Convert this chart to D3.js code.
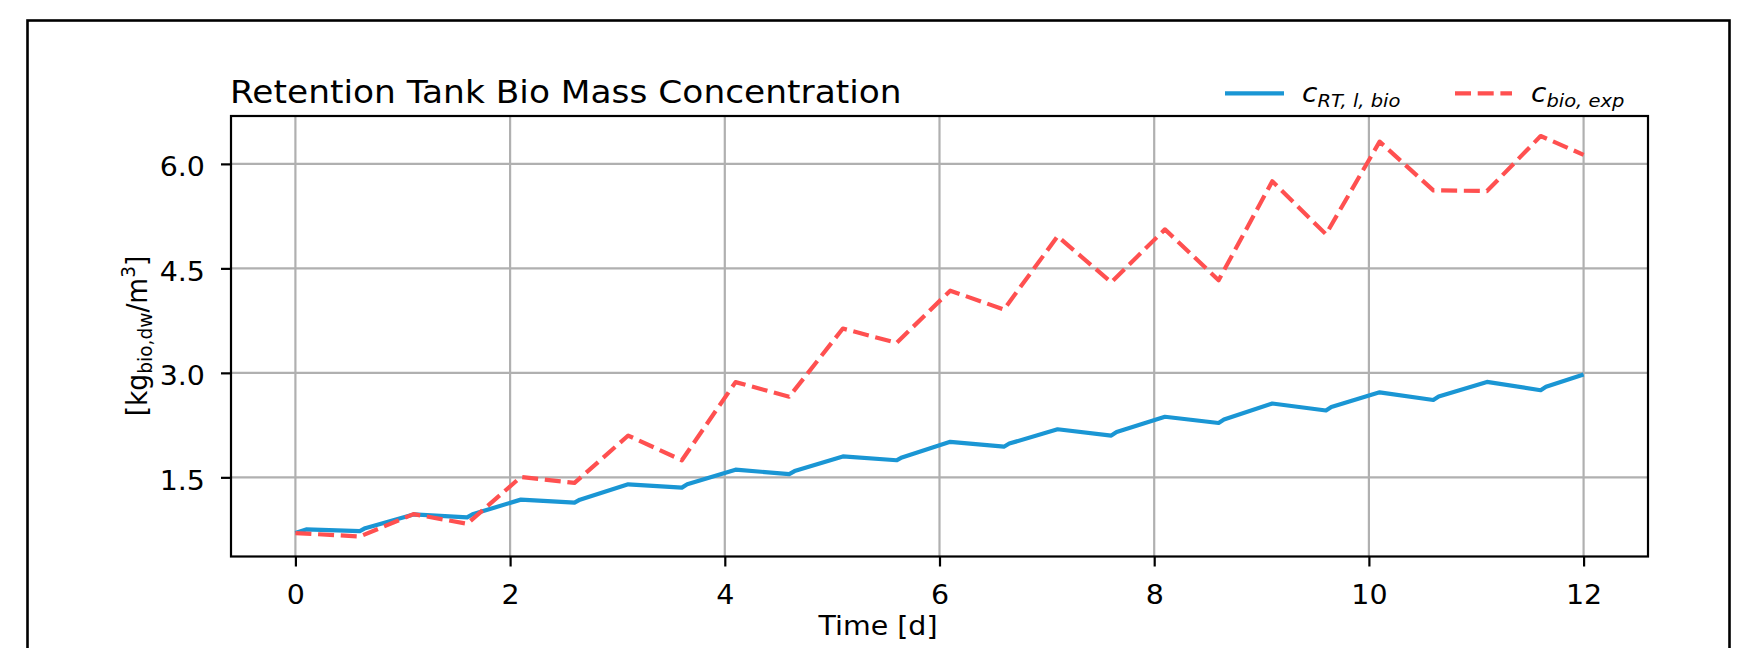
<!DOCTYPE html>
<html>
<head>
<meta charset="utf-8">
<script src="https://cdn.jsdelivr.net/npm/d3@7"></script>
<style>
  body { margin: 0; background: #fff; }
  text { font-family: "DejaVu Sans", sans-serif; fill: #000; }
</style>
</head>
<body>
<script>
// simulated retention tank concentration (blue)
const simTime = [0, 0.1, 0.6, 0.65, 1.1, 1.6, 1.65, 2.1, 2.6, 2.65, 3.1, 3.6, 3.65, 4.1, 4.6, 4.65,
  5.1, 5.6, 5.65, 6.1, 6.6, 6.65, 7.1, 7.6, 7.65, 8.1, 8.6, 8.65, 9.1, 9.6, 9.65, 10.1, 10.6, 10.65,
  11.1, 11.6, 11.65, 12];
const simConc = [0.70, 0.752, 0.728, 0.77, 0.968, 0.925, 0.97, 1.18, 1.136, 1.18, 1.40, 1.352, 1.40,
  1.61, 1.547, 1.59, 1.80, 1.745, 1.785, 2.01, 1.94, 1.985, 2.19, 2.10, 2.15, 2.37, 2.28, 2.33, 2.56,
  2.46, 2.51, 2.72, 2.61, 2.66, 2.87, 2.75, 2.80, 2.975];
// experimental values (red dashed)
const expTime = [0, 0.6, 1.1, 1.6, 2.1, 2.6, 3.1, 3.6, 4.1, 4.6, 5.1, 5.6, 6.1, 6.6, 7.1, 7.6, 8.1,
  8.6, 9.1, 9.6, 10.1, 10.6, 11.1, 11.6, 12];
const expConc = [0.70, 0.651, 0.972, 0.834, 1.504, 1.42, 2.10, 1.745, 2.867, 2.657, 3.636, 3.43,
  4.18, 3.91, 4.96, 4.30, 5.06, 4.33, 5.75, 4.99, 6.32, 5.62, 5.61, 6.40, 6.13];
const xTicks = [0, 2, 4, 6, 8, 10, 12];
const yTicks = [1.5, 3.0, 4.5, 6.0];

const blue = "#1a96d4", red = "#ff5050";
const W = 1752, H = 648;
const plot = { left: 231, right: 1648, top: 116, bottom: 556.5 };
const squash = "scale(1,0.93)"; // the picture is a bit flattened vertically

const svg = d3.select("body").append("svg").attr("width", W).attr("height", H);

const x = d3.scaleLinear().domain([-0.6, 12.6]).range([plot.left, plot.right]);
const allY = simConc.concat(expConc);
const yMin = d3.min(allY), yMax = d3.max(allY), pad = (yMax - yMin) * 0.05;
const y = d3.scaleLinear().domain([yMin - pad, yMax + pad]).range([plot.bottom, plot.top]);

// outer frame
svg.append("rect")
  .attr("x", 27.5).attr("y", 20.5)
  .attr("width", 1702).attr("height", 700)
  .attr("fill", "none").attr("stroke", "#000").attr("stroke-width", 2.6);

// grid
const grid = svg.append("g").attr("stroke", "#b0b0b0").attr("stroke-width", 2.2);
grid.selectAll(".gx").data(xTicks).join("line").attr("class", "gx")
  .attr("x1", d => x(d)).attr("x2", d => x(d))
  .attr("y1", plot.top).attr("y2", plot.bottom);
grid.selectAll(".gy").data(yTicks).join("line").attr("class", "gy")
  .attr("x1", plot.left).attr("x2", plot.right)
  .attr("y1", d => y(d)).attr("y2", d => y(d));

// axes
const xAxis = d3.axisBottom(x).tickValues(xTicks).tickSize(10).tickSizeOuter(0).tickFormat(d3.format("d"));
const yAxis = d3.axisLeft(y).tickValues(yTicks).tickSize(10).tickSizeOuter(0).tickFormat(d3.format(".1f"));

const gx = svg.append("g").attr("transform", "translate(0," + plot.bottom + ")").call(xAxis);
const gy = svg.append("g").attr("transform", "translate(" + plot.left + ",0)").call(yAxis);
[gx, gy].forEach(function (g) {
  g.attr("font-size", 28.5).attr("font-family", "DejaVu Sans");
  g.select(".domain").remove();
  g.selectAll(".tick line").attr("stroke", "#000").attr("stroke-width", 2.2);
  g.selectAll(".tick text").attr("fill", "#000");
});
gx.selectAll(".tick text").attr("y", null).attr("dy", null)
  .attr("transform", "translate(0,47) " + squash);
gy.selectAll(".tick text").attr("x", null).attr("dy", null)
  .attr("transform", "translate(-26,11.7) " + squash);

// lines
const line = d3.line().x(d => x(d[0])).y(d => y(d[1]));
svg.append("path")
  .datum(d3.zip(simTime, simConc))
  .attr("d", line)
  .attr("fill", "none").attr("stroke", blue).attr("stroke-width", 4.2)
  .attr("stroke-linejoin", "round");
svg.append("path")
  .datum(d3.zip(expTime, expConc))
  .attr("d", line)
  .attr("fill", "none").attr("stroke", red).attr("stroke-width", 4.2)
  .attr("stroke-dasharray", "16,6.7").attr("stroke-linejoin", "round");

// spines
svg.append("rect")
  .attr("x", plot.left).attr("y", plot.top)
  .attr("width", plot.right - plot.left).attr("height", plot.bottom - plot.top)
  .attr("fill", "none").attr("stroke", "#000").attr("stroke-width", 2.2);

// title
svg.append("text")
  .attr("transform", "translate(230,103) " + squash)
  .attr("font-size", 34.4)
  .text("Retention Tank Bio Mass Concentration");

// x label
svg.append("text")
  .attr("transform", "translate(878,634.5) " + squash)
  .attr("font-size", 28.5).attr("text-anchor", "middle")
  .text("Time [d]");

// y label
const yl = svg.append("text")
  .attr("transform", "translate(147,336) " + squash + " rotate(-90)")
  .attr("font-size", 28.5).attr("text-anchor", "middle");
yl.append("tspan").text("[kg");
yl.append("tspan").attr("font-size", 20).attr("dy", 5).text("bio,dw");
yl.append("tspan").attr("dy", -5).text("/m");
yl.append("tspan").attr("font-size", 20).attr("dy", -12).text("3");
yl.append("tspan").attr("dy", 12).text("]");

// legend
const legendItems = [
  { main: "c", sub: "RT, l, bio", color: blue, dash: null, x0: 1225, x1: 1284, tx: 1302 },
  { main: "c", sub: "bio, exp", color: red, dash: "16,6.7", x0: 1455, x1: 1512, tx: 1531 }
];
const lg = svg.selectAll(".legend").data(legendItems).join("g").attr("class", "legend");
lg.append("line")
  .attr("x1", d => d.x0).attr("x2", d => d.x1)
  .attr("y1", 93.3).attr("y2", 93.3)
  .attr("stroke", d => d.color).attr("stroke-width", 4.2)
  .attr("stroke-dasharray", d => d.dash);
const lt = lg.append("text")
  .attr("transform", d => "translate(" + d.tx + ",102) " + squash)
  .attr("font-size", 28).attr("font-style", "italic");
lt.append("tspan").text(d => d.main);
lt.append("tspan").attr("font-size", 19.5).attr("dy", 5).text(d => d.sub);
</script>
</body>
</html>
